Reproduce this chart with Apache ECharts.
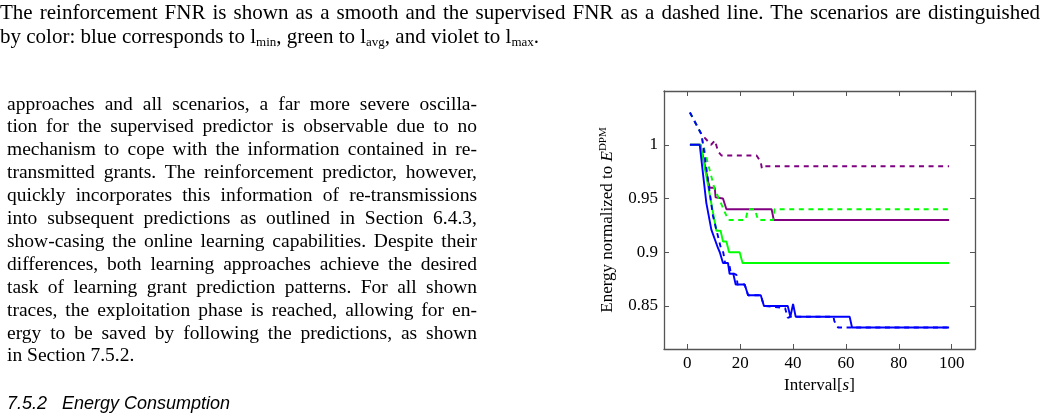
<!DOCTYPE html>
<html>
<head>
<meta charset="utf-8">
<script src="https://cdn.jsdelivr.net/npm/echarts@6/dist/echarts.min.js"></script>
<style>
  html, body { margin: 0; padding: 0; background: #fff; }
  #page { position: relative; width: 1045px; height: 419px; overflow: hidden;
          font-family: "Liberation Serif", serif; color: #000; }
  #chart { position: absolute; left: 0; top: 0; width: 1045px; height: 419px; }
  .txt { position: absolute; text-align: justify; text-align-last: justify; }
  .txt.last { text-align-last: left; }
  .cap { font-size: 21px; line-height: 23px; }
  .body { font-size: 19.5px; line-height: 23px; }
  sub { font-size: 13px; line-height: 0; vertical-align: -3px; }
  #heading { position: absolute; left: 7px; top: 392px; font-family: "Liberation Sans", sans-serif;
             font-style: italic; font-size: 18px; line-height: 23px; }
</style>
</head>
<body>
<div id="page">
  <div id="chart"></div>
  <div class="txt cap" style="left:0;top:1px;width:1040px;">The reinforcement FNR is shown as a smooth and the supervised FNR as a dashed line. The scenarios are distinguished</div>
  <div class="txt cap last" style="left:0;top:25px;width:1040px;">by color: blue corresponds to l<sub>min</sub>, green to l<sub>avg</sub>, and violet to l<sub>max</sub>.</div>
  <div id="bodytext"></div>
  <div id="heading">7.5.2&nbsp;&nbsp;&nbsp;Energy Consumption</div>
</div>
<script>
// paragraph lines (left column)
const bodyLines = [
  'approaches and all scenarios, a far more severe oscilla-',
  'tion for the supervised predictor is observable due to no',
  'mechanism to cope with the information contained in re-',
  'transmitted grants. The reinforcement predictor, however,',
  'quickly incorporates this information of re-transmissions',
  'into subsequent predictions as outlined in  Section 6.4.3,',
  'show-casing the online learning capabilities. Despite their',
  'differences, both learning approaches achieve the desired',
  'task of learning grant prediction patterns. For all shown',
  'traces, the exploitation phase is reached, allowing for en-',
  'ergy to be saved by following the predictions, as shown',
  'in Section 7.5.2.'
];

const holder = document.getElementById('bodytext');
bodyLines.forEach((s, i) => {
  const d = document.createElement('div');
  d.className = 'txt body' + (i === bodyLines.length - 1 ? ' last' : '');
  d.style.left = '7px';
  d.style.width = '470px';
  d.style.top = (91.5 + i * 22.9) + 'px';
  d.textContent = s;
  holder.appendChild(d);
});

// ticks
const xTicks = [0, 20, 40, 60, 80, 100];
const yTicks = [0.85, 0.9, 0.95, 1];

// reinforcement (solid) and supervised (dashed) FNR, per scenario
const rlMin = [[1, 1], [4.7, 1], [7.2, 0.946], [9.1, 0.921], [11.6, 0.904], [12.3, 0.9], [13.5, 0.89],
  [15.4, 0.89], [16, 0.88], [17.4, 0.88], [18.3, 0.87], [21.7, 0.87], [23, 0.86], [27.8, 0.86],
  [29, 0.85], [38, 0.85], [39, 0.84], [40, 0.852], [41, 0.84], [61.4, 0.84], [62.3, 0.83], [99, 0.83]];
const slMin = [[1, 1.03], [5.3, 1.01], [6, 1.0], [9.7, 0.934], [11, 0.921], [12.9, 0.902], [13.6, 0.9],
  [14.3, 0.89], [15.8, 0.89], [16.5, 0.88], [17.8, 0.88], [18.6, 0.879], [19, 0.87], [21.7, 0.87],
  [23, 0.86], [27.8, 0.86], [29, 0.85], [37, 0.848], [38, 0.839], [39, 0.84], [55.3, 0.84],
  [55.6, 0.836], [56.5, 0.832], [57, 0.83], [99, 0.83]];
const rlAvg = [[1, 1], [5, 1], [11, 0.92], [12.6, 0.92], [13.5, 0.91], [14.8, 0.91], [15.8, 0.9],
  [19.8, 0.9], [20.9, 0.89], [99, 0.89]];
const slAvg = [[1, 1.03], [5.3, 1.01], [6, 1.0], [10.4, 0.958], [11.6, 0.952], [15.5, 0.93], [22, 0.93],
  [23, 0.94], [25.5, 0.94], [26.8, 0.93], [32.5, 0.93], [33, 0.94], [99, 0.94]];
const rlMax = [[1, 1], [5, 1], [8, 0.965], [8.5, 0.96], [10.4, 0.96], [10.7, 0.951], [13.5, 0.95],
  [14.8, 0.94], [31.9, 0.94], [32.7, 0.93], [99, 0.93]];
const slMax = [[1, 1.03], [5.3, 1.01], [9, 1.0], [10.5, 1.004], [11.6, 0.994], [12.9, 0.99], [26.2, 0.99],
  [27.8, 0.984], [28.2, 0.978], [29, 0.98], [99, 0.98]];

const BLUE = '#0000ff', GREEN = '#00ff00', VIOLET = '#800080';
const font = 'Liberation Serif';
const axisColor = '#555';

const chart = echarts.init(document.getElementById('chart'));

function line(name, data, color, dashed) {
  return {
    name: name,
    type: 'line',
    data: data,
    showSymbol: false,
    silent: true,
    lineStyle: { color: color, width: 1.9, type: dashed ? [5, 4.6] : 'solid' },
    xAxisIndex: 0,
    yAxisIndex: 0
  };
}

const frameAxis = {
  axisLine: { show: true, onZero: false, lineStyle: { color: axisColor, width: 1.3 } },
  splitLine: { show: false }
};

chart.setOption({
  animation: false,
  grid: { left: 664, right: 70, top: 91, bottom: 70, containLabel: false },
  xAxis: [
    {
      ...frameAxis,
      type: 'value', position: 'bottom', min: -8.8, max: 108.8,
      axisTick: { show: true, inside: true, length: 5, customValues: xTicks, lineStyle: { color: axisColor } },
      axisLabel: { customValues: xTicks, margin: 6, color: '#000', fontFamily: font, fontSize: 17 },
      name: 'Interval[{i|s}]',
      nameLocation: 'middle',
      nameGap: 28,
      nameTextStyle: { color: '#000', fontFamily: font, fontSize: 17,
        rich: { i: { fontStyle: 'italic', fontFamily: font, fontSize: 17 } } }
    },
    {
      ...frameAxis,
      type: 'value', position: 'top', min: -8.8, max: 108.8,
      axisTick: { show: true, inside: true, length: 5, customValues: xTicks, lineStyle: { color: axisColor } },
      axisLabel: { show: false }
    }
  ],
  yAxis: [
    {
      ...frameAxis,
      type: 'value', position: 'left', min: 0.81, max: 1.05,
      axisTick: { show: true, inside: true, length: 5, customValues: yTicks, lineStyle: { color: axisColor } },
      axisLabel: { customValues: yTicks, margin: 6, color: '#000', fontFamily: font, fontSize: 17 },
      name: 'Energy normalized to {i|E}{sup|DPM}',
      nameLocation: 'middle',
      nameRotate: 90,
      nameGap: 46,
      nameTextStyle: { color: '#000', fontFamily: font, fontSize: 17, lineHeight: 20,
        rich: {
          i: { fontStyle: 'italic', fontFamily: font, fontSize: 17, lineHeight: 20 },
          sup: { fontFamily: font, fontSize: 11, lineHeight: 11, verticalAlign: 'top' }
        } }
    },
    {
      ...frameAxis,
      type: 'value', position: 'right', min: 0.81, max: 1.05,
      axisTick: { show: true, inside: true, length: 5, customValues: yTicks, lineStyle: { color: axisColor } },
      axisLabel: { show: false }
    }
  ],
  series: [
    line('supervised l_max', slMax, VIOLET, true),
    line('reinforcement l_max', rlMax, VIOLET, false),
    line('supervised l_avg', slAvg, GREEN, true),
    line('reinforcement l_avg', rlAvg, GREEN, false),
    line('reinforcement l_min', rlMin, BLUE, false),
    line('supervised l_min', slMin, BLUE, true)
  ]
});
</script>
</body>
</html>
